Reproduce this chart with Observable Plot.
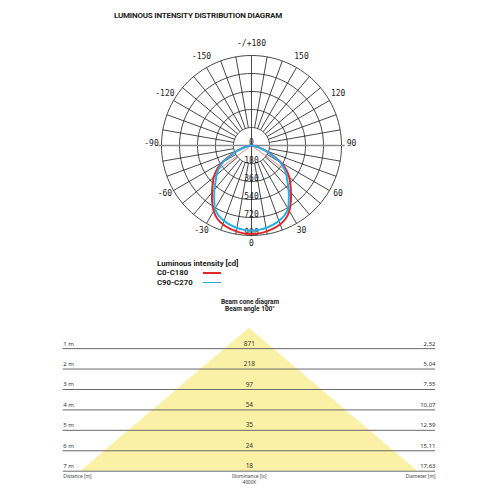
<!DOCTYPE html>
<html><head><meta charset="utf-8">
<script src="https://cdn.jsdelivr.net/npm/d3@7"></script>
<script src="https://cdn.jsdelivr.net/npm/@observablehq/plot@0.6"></script>
<style>
body{margin:0;background:#fff;}
#root{position:relative;width:500px;height:500px;overflow:hidden;font-family:Roboto,sans-serif;color:#222;}
.abs{position:absolute;white-space:nowrap;}
#polar,#beam{position:absolute;left:0;}
#polar{top:0;} #beam{top:290px;}
</style></head><body><div id="root"></div>
<script>
// ---- data ----
const titleText = "LUMINOUS INTENSITY DISTRIBUTION DIAGRAM";
const angles = [-90,-85,-80,-75,-70,-65,-60,-55,-50,-45,-40,-35,-30,-25,-20,-15,-10,-5,0,5,10,15,20,25,30,35,40,45,50,55,60,65,70,75,80,85,90];
const c0c180 = [0,8,32,82,150,228,342,425,492,550,614,686,757,808,838,858,872,882,885,882,872,858,838,808,757,686,614,550,492,425,342,228,150,82,32,8,0];
const c90c270 = [0,8,30,78,145,218,325,398,455,508,578,650,730,775,802,823,838,847,850,847,838,823,802,775,730,650,578,508,455,398,325,218,145,78,30,8,0];
const ringValues = [180,360,540,720,900];
const angleTicks = [180,150,120,90,60,30,0,-30,-60,-90,-120,-150];
const angleTickLabels = ["-/+180","150","120","90","60","30","0","-30","-60","-90","-120","-150"];
const beamHalfAngles = [-54,54];
const beamHalfValue = 430;
const seriesNames = ["C0-C180","C90-C270"];
const seriesColors = ["#e52629","#27aee8"];

const distances = [1,2,3,4,5,6,7];
const illuminance = [871,218,97,54,35,24,18];
const diameters = [2.52,5.04,7.55,10.07,12.59,15.11,17.63];
const beamAngle = 100;

// ---- polar helpers ----
const rad = a => a*Math.PI/180;
const px = (a,v) => v*Math.sin(rad(a));
const py = (a,v) => -v*Math.cos(rad(a));

const curveRows = [];
angles.forEach((a,i)=>{
  curveRows.push({s:seriesNames[0], a, v:c0c180[i]});
  curveRows.push({s:seriesNames[1], a, v:c90c270[i]});
});
const circlePts = [];
ringValues.forEach(v=>d3.range(0,361,3).forEach(a=>circlePts.push({v,a})));
const spokes = d3.range(-170,180,10).filter(a=>a!==0 && Math.abs(a)!==90);
const outer = ringValues[ringValues.length-1];

const polar = Plot.plot({
  width:500, height:260,
  marginLeft:151, marginRight:149, marginTop:45, marginBottom:15,
  x:{domain:[-1000,1000], axis:null},
  y:{domain:[-1000,1000], axis:null},
  marks:[
    Plot.line(circlePts,{x:d=>px(d.a,d.v), y:d=>py(d.a,d.v), z:"v", stroke:"#1a1a1a", strokeWidth:0.8}),
    Plot.link(spokes,{x1:a=>px(a,ringValues[0]), y1:a=>py(a,ringValues[0]), x2:a=>px(a,outer), y2:a=>py(a,outer), stroke:"#1a1a1a", strokeWidth:0.8}),
    Plot.link([0],{x1:()=>px(180,outer), y1:()=>py(180,outer), x2:()=>px(0,outer), y2:()=>py(0,outer), stroke:"#1a1a1a", strokeWidth:0.8}),
    Plot.link([0],{x1:()=>px(-90,outer*1.035), y1:()=>0, x2:()=>px(90,outer*1.035), y2:()=>0, stroke:"#8a8a8a", strokeWidth:1.6}),
    Plot.text([0,...ringValues],{x:()=>0, y:v=>py(0,v), text:v=>String(v), dy:-3, fontFamily:"DejaVu Sans Mono", fontSize:8, fill:"#222"}),
    Plot.link(beamHalfAngles,{x1:()=>0, y1:()=>0, x2:a=>px(a,beamHalfValue), y2:a=>py(a,beamHalfValue), stroke:"#e0505a", strokeWidth:0.7}),
    Plot.line(curveRows,{x:d=>px(d.a,d.v), y:d=>py(d.a,d.v), z:"s", stroke:"s", strokeWidth:2, curve:"catmull-rom"}),
    Plot.text(angleTicks,{x:a=>px(a,1000), y:a=>py(a,1000), text:(a,i)=>angleTickLabels[i], dy:-2, fontFamily:"DejaVu Sans Mono", fontSize:8, fill:"#222"})
  ],
  color:{domain:seriesNames, range:seriesColors}
});
polar.id="polar";

// ---- beam cone ----
const rows = distances.map((d,i)=>({d, lx:illuminance[i], dia:diameters[i]}));
const cone = [{d:0, dia:0}, ...rows];
const fmt = v => v.toFixed(2).replace(".",",");
const beam = Plot.plot({
  width:500, height:210,
  marginLeft:62.7, marginRight:65, marginTop:37.7, marginBottom:29.3,
  x:{domain:[-9.75,9.75], axis:null},
  y:{domain:[0,7], reverse:true, axis:null},
  marks:[
    Plot.areaX(cone,{y:"d", x1:d=>-d.dia/2, x2:d=>d.dia/2, fill:"#fbf1a6"}),
    Plot.ruleY(rows,{y:"d", stroke:"#6a6a6a", strokeWidth:1}),
    Plot.text(rows,{y:"d", frameAnchor:"left", textAnchor:"start", text:d=>d.d+" m", dy:-5, fontSize:6, fill:"#333"}),
    Plot.text(rows,{y:"d", x:()=>0, text:d=>String(d.lx), dy:-5, fontSize:6.5, fill:"#333"}),
    Plot.text(rows,{y:"d", frameAnchor:"right", textAnchor:"end", text:d=>fmt(d.dia), dy:-5, fontSize:6, fill:"#333"}),
    Plot.text(["Distance [m]"],{frameAnchor:"bottom-left", textAnchor:"start", lineAnchor:"top", dy:3, fontSize:4.8, fill:"#444"}),
    Plot.text(["Illuminance [lx]\n4000K"],{frameAnchor:"bottom", lineAnchor:"top", dy:3, fontSize:4.8, lineHeight:1.2, fill:"#444"}),
    Plot.text(["Diameter [m]"],{frameAnchor:"bottom-right", textAnchor:"end", lineAnchor:"top", dy:3, fontSize:4.8, fill:"#444"})
  ]
});
beam.id="beam";

// ---- assemble ----
const root = document.getElementById("root");
root.appendChild(polar);
root.appendChild(beam);
function addText(txt, left, top, size, weight, extra){
  const el = document.createElement("div");
  el.className="abs"; el.textContent=txt;
  el.style.left=left+"px"; el.style.top=top+"px";
  el.style.fontSize=size+"px"; el.style.fontWeight=weight; el.style.lineHeight=size+"px";
  if(extra) Object.assign(el.style, extra);
  root.appendChild(el); return el;
}
addText(titleText, 114, 12, 8, 700, {letterSpacing:"-0.2px"});
addText("Luminous intensity [cd]", 157, 260, 7.8, 700);
seriesNames.forEach((n,i)=>{
  const cy = 273 + i*9.5;
  addText(n, 157, cy-4, 7.8, 700);
  const sw = document.createElement("div");
  sw.className="abs";
  Object.assign(sw.style,{left:"203px", top:(cy-0.75)+"px", width:"18px", height:"1.5px", background:seriesColors[i]});
  root.appendChild(sw);
});
addText("Beam cone diagram", 0, 299, 6.5, 700, {width:"500px", textAlign:"center"});
addText("Beam angle " + beamAngle + "°", 0, 306, 6.5, 700, {width:"500px", textAlign:"center"});
</script></body></html>
